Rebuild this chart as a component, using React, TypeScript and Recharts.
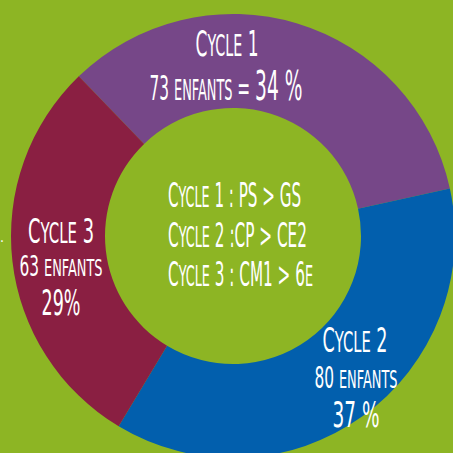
import React from 'react'
import { PieChart, Pie, Cell } from 'recharts'

// données des cycles
const categories = ['Cycle 1', 'Cycle 2', 'Cycle 3']
const enfants = [73, 80, 63]
const percents = ['34 %', '37 %', '29%']
const centerLines = ['Cycle 1 : PS > GS', 'Cycle 2 :CP > CE2', 'Cycle 3 : CM1 > 6e']

const COLORS = ['#764788', '#025fad', '#8a1f42']
const BG = '#8db524'
const FONT = '"Liberation Sans Narrow", "DejaVu Sans Condensed", Roboto, sans-serif'
const SC = 0.84 // hauteur des petites capitales

const CX = 233
const CY = 236

const data = categories.map((name, i) => ({ name, value: enfants[i], pct: percents[i] }))

let ctx: CanvasRenderingContext2D | null = null
function measure(t: string, size: number) {
  if (!ctx) ctx = document.createElement('canvas').getContext('2d')
  if (!ctx) return t.length * size * 0.45
  ctx.font = `${size}px ${FONT}`
  return ctx.measureText(t).width
}

// découpe en petites capitales : minuscules -> majuscules plus petites
function runs(segs: [string, number][]) {
  const out: { t: string; s: number; up: boolean }[] = []
  segs.forEach(([str, size]) => {
    const re = /([a-zà-ÿ]+)|([^a-zà-ÿ]+)/g
    let m
    while ((m = re.exec(str))) {
      if (m[1]) out.push({ t: m[1], s: size * SC, up: true })
      else out.push({ t: m[2], s: size, up: false })
    }
  })
  return out
}

function Fit({ x, y, w, segs, anchor = 'middle' }: any) {
  const rs = runs(segs)
  const natural = rs.reduce((a, r) => a + measure(r.up ? r.t.toUpperCase() : r.t, r.s), 0)
  const sx = natural > 0 ? w / natural : 1
  return (
    <text
      transform={`translate(${x},${y}) scale(${sx.toFixed(3)},1)`}
      textAnchor={anchor}
      fill="#fff"
      fontFamily={FONT}
    >
      {rs.map((r, i) => (
        <tspan key={i} fontSize={r.s} style={r.up ? { textTransform: 'uppercase' } : undefined}>
          {r.t}
        </tspan>
      ))}
    </text>
  )
}

const renderLabel = (props: any) => {
  const cx = props.cx ?? CX
  const cy = props.cy ?? CY
  const i = props.index
  const d = data[i]
  if (i === 0) {
    return (
      <g key="l0">
        <Fit x={cx - 6} y={cy - 180} w={63} segs={[[d.name, 36]]} />
        <Fit x={cx - 7} y={cy - 136} w={153} segs={[[`${d.value} enfants = `, 33], [d.pct, 40]]} />
      </g>
    )
  }
  if (i === 1) {
    return (
      <g key="l1">
        <Fit x={cx + 122} y={cy + 116} w={65} segs={[[d.name, 34]]} />
        <Fit x={cx + 123} y={cy + 152} w={83} segs={[[`${d.value} enfants`, 30]]} />
        <Fit x={cx + 123} y={cy + 191} w={47} segs={[[d.pct, 36]]} />
      </g>
    )
  }
  return (
    <g key="l2">
      <Fit x={cx - 172} y={cy + 7} w={66} segs={[[d.name, 33]]} />
      <Fit x={cx - 172} y={cy + 40} w={83} segs={[[`${d.value} enfants`, 28]]} />
      <Fit x={cx - 172} y={cy + 79} w={39} segs={[[d.pct, 36]]} />
    </g>
  )
}

export default function App() {
  return (
    <div style={{ position: 'fixed', left: 0, top: 0, width: 453, height: 453, background: BG, overflow: 'hidden' }}>
      <PieChart width={453} height={453} margin={{ top: 0, right: 0, bottom: 0, left: 0 }}>
        <Pie
          data={data}
          dataKey="value"
          nameKey="name"
          cx={CX}
          cy={CY}
          innerRadius={128}
          outerRadius={222}
          startAngle={134}
          endAngle={-226}
          stroke="none"
          label={renderLabel}
          labelLine={false}
          isAnimationActive={false}
        >
          {data.map((d, i) => (
            <Cell key={d.name} fill={COLORS[i]} />
          ))}
        </Pie>
      </PieChart>
      <svg width={453} height={453} style={{ position: 'absolute', left: 0, top: 0, pointerEvents: 'none' }}>
        <Fit x={168} y={207} w={133} segs={[[centerLines[0], 33]]} anchor="start" />
        <Fit x={168} y={247} w={139} segs={[[centerLines[1], 33]]} anchor="start" />
        <Fit x={168} y={286} w={145} segs={[[centerLines[2], 33]]} anchor="start" />
        <text x={0} y={242} fill="#fff" fontFamily={FONT} fontSize={14}>.</text>
      </svg>
    </div>
  )
}
